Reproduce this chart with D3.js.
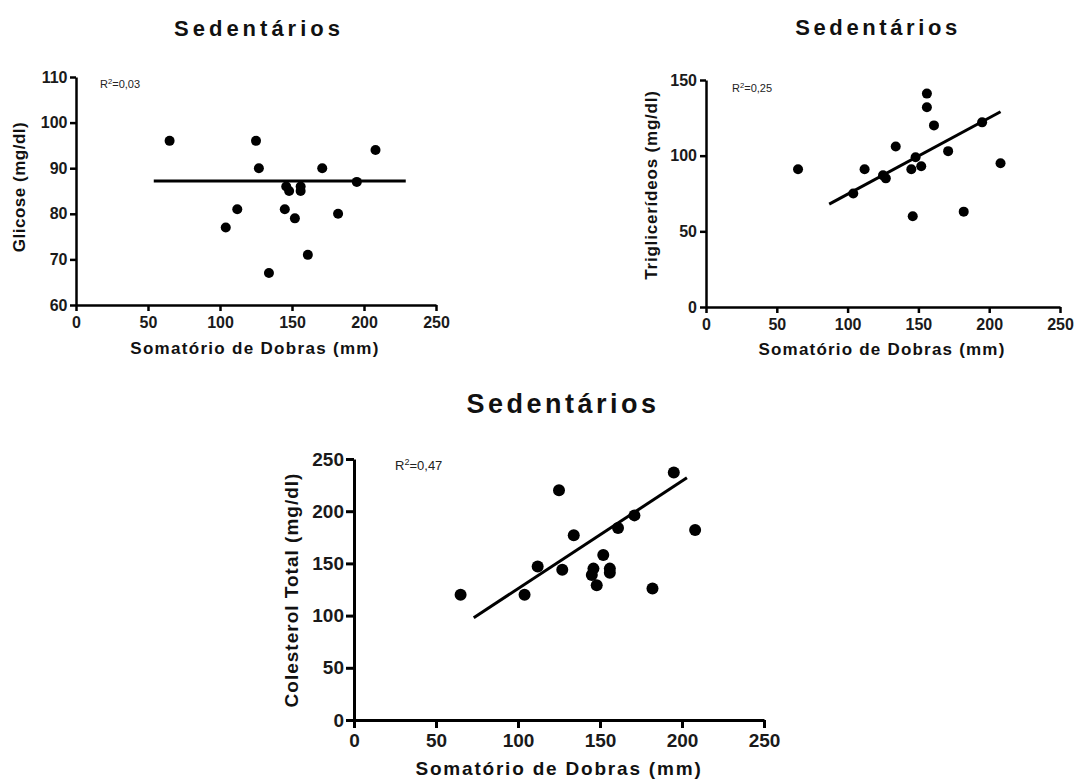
<!DOCTYPE html>
<html>
<head>
<meta charset="utf-8">
<script src="https://cdn.jsdelivr.net/npm/d3@7"></script>
<style>
  body { margin: 0; background: #fff; }
  text { font-family: "Liberation Sans", Arial, sans-serif; }
</style>
</head>
<body>
<script>

// somatorio de dobras (mm), one per subject
var somatorio = [65, 104, 112, 125, 127, 134, 145, 146, 148, 152, 156, 156, 161, 171, 182, 195, 208];

// the three blood values for the same subjects
var glicose = [96, 77, 81, 96, 90, 67, 81, 86, 85, 79, 86, 85, 71, 90, 80, 87, 94];
var triglicerideos = [91, 75, 91, 87, 85, 106, 91, 60, 99, 93, 141, 132, 120, 103, 63, 122, 95];
var colesterol = [120, 120, 147, 220, 144, 177, 139, 145, 129, 158, 145, 141, 184, 196, 126, 237, 182];

// end points of the fitted lines
var glicoseFitX = [54, 229];
var glicoseFitY = [87.2, 87.2];
var trigFitX = [87, 208];
var trigFitY = [68, 129];
var colFitX = [73, 203];
var colFitY = [98, 232];

// tick labels
var xTicks = [0, 50, 100, 150, 200, 250];
var glicoseTicks = [60, 70, 80, 90, 100, 110];
var trigTicks = [0, 50, 100, 150];
var colTicks = [0, 50, 100, 150, 200, 250];

var title = "Sedentários";
var xLabel = "Somatório de Dobras (mm)";

var svg = d3.select("body")
            .append("svg")
            .attr("width", 1076)
            .attr("height", 781);

// draws one panel
function drawPanel(p) {

  var xScale = d3.scaleLinear()
                 .domain([0, 250])
                 .range([p.left, p.right]);

  var yScale = d3.scaleLinear()
                 .domain(p.yDomain)
                 .range([p.bottom, p.top]);

  var g = svg.append("g");

  // x axis
  var xAxis = d3.axisBottom(xScale)
                .tickValues(xTicks)
                .tickSize(p.tick)
                .tickSizeOuter(0)
                .tickPadding(p.tick == 6 ? 6 : 6);

  var gx = g.append("g")
            .attr("transform", "translate(0," + p.bottom + ")")
            .call(xAxis);

  // y axis
  var yAxis = d3.axisLeft(yScale)
                .tickValues(p.yTicks)
                .tickSize(p.tick)
                .tickSizeOuter(0)
                .tickPadding(p.yPad);

  var gy = g.append("g")
            .attr("transform", "translate(" + p.left + ",0)")
            .call(yAxis);

  [gx, gy].forEach(function(a) {
    a.select(".domain").attr("stroke", "#000").attr("stroke-width", p.axisW);
    a.selectAll(".tick line").attr("stroke", "#000").attr("stroke-width", p.axisW);
    a.selectAll(".tick text")
     .attr("fill", "#1a1a1a")
     .style("font-size", p.tickFont + "px")
     .style("font-weight", "bold")
     .style("font-family", "'Liberation Sans', Arial, sans-serif");
  });

  // the fitted line
  g.append("line")
   .attr("x1", xScale(p.fitX[0]))
   .attr("y1", yScale(p.fitY[0]))
   .attr("x2", xScale(p.fitX[1]))
   .attr("y2", yScale(p.fitY[1]))
   .attr("stroke", "#000")
   .attr("stroke-width", p.lineW);

  // makes dots
  g.selectAll("circle")
   .data(p.values)
   .enter()
   .append("circle")
   .attr("cx", function(d, i) { return xScale(somatorio[i]); })
   .attr("cy", function(d) { return yScale(d); })
   .attr("r", p.r)
   .attr("fill", "#000");

  // title
  g.append("text")
   .attr("x", p.titleX)
   .attr("y", p.titleY)
   .attr("text-anchor", "middle")
   .style("font-size", p.titleFont + "px")
   .style("font-weight", "bold")
   .style("letter-spacing", p.titleSpace + "px")
   .attr("fill", "#111")
   .text(title);

  // x label
  g.append("text")
   .attr("x", p.xLabX)
   .attr("y", p.xLabY)
   .attr("text-anchor", "middle")
   .style("font-size", p.labFont + "px")
   .style("font-weight", "bold")
   .style("letter-spacing", p.labSpace + "px")
   .attr("fill", "#111")
   .text(xLabel);

  // y label
  g.append("text")
   .attr("transform", "translate(" + p.yLabX + "," + p.yLabY + ")rotate(-90)")
   .attr("text-anchor", "middle")
   .style("font-size", p.labFont + "px")
   .style("font-weight", "bold")
   .style("letter-spacing", p.yLabSpace + "px")
   .attr("fill", "#111")
   .text(p.yLabel);

  // r squared
  var r2 = g.append("text")
            .attr("x", p.r2X)
            .attr("y", p.r2Y)
            .style("font-size", p.r2Font + "px")
            .attr("fill", "#222");
  r2.append("tspan").text("R");
  r2.append("tspan")
    .attr("dy", -p.r2Font * 0.4)
    .style("font-size", (p.r2Font * 0.7) + "px")
    .text("2");
  r2.append("tspan")
    .attr("dy", p.r2Font * 0.4)
    .text("=" + p.r2);
}

drawPanel({
  left: 76, right: 436, top: 77, bottom: 305,
  yDomain: [60, 110], yTicks: glicoseTicks, values: glicose,
  fitX: glicoseFitX, fitY: glicoseFitY,
  tick: 6, yPad: 2.5, axisW: 2.5, lineW: 3, r: 5, tickFont: 16,
  titleX: 259, titleY: 36, titleFont: 22, titleSpace: 4,
  xLabX: 255, xLabY: 354, labFont: 17, labSpace: 1.3,
  yLabX: 25, yLabY: 187, yLabSpace: 0.5, yLabel: "Glicose (mg/dl)",
  r2X: 100, r2Y: 88, r2Font: 11, r2: "0,03"
});

drawPanel({
  left: 706, right: 1060, top: 80, bottom: 307,
  yDomain: [0, 150], yTicks: trigTicks, values: triglicerideos,
  fitX: trigFitX, fitY: trigFitY,
  tick: 6, yPad: 3, axisW: 2.5, lineW: 3, r: 5, tickFont: 16,
  titleX: 878, titleY: 35, titleFont: 22, titleSpace: 3.6,
  xLabX: 882, xLabY: 355, labFont: 17, labSpace: 1.2,
  yLabX: 657, yLabY: 185, yLabSpace: 0.8, yLabel: "Triglicerídeos (mg/dl)",
  r2X: 732, r2Y: 92, r2Font: 11, r2: "0,25"
});

drawPanel({
  left: 354, right: 764, top: 459, bottom: 720,
  yDomain: [0, 250], yTicks: colTicks, values: colesterol,
  fitX: colFitX, fitY: colFitY,
  tick: 8, yPad: 2, axisW: 3, lineW: 3, r: 6, tickFont: 19,
  titleX: 563, titleY: 413, titleFont: 27, titleSpace: 3.5,
  xLabX: 559, xLabY: 775, labFont: 19, labSpace: 1.8,
  yLabX: 298, yLabY: 590, yLabSpace: 1, yLabel: "Colesterol Total (mg/dl)",
  r2X: 395, r2Y: 470, r2Font: 13, r2: "0,47"
});

</script>
</body>
</html>
